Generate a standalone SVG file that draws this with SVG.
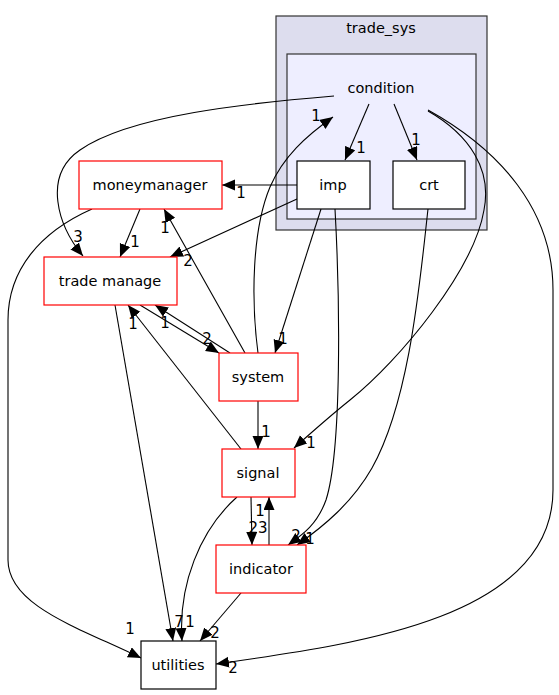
<svg xmlns="http://www.w3.org/2000/svg" width="559" height="695" viewBox="0 0 559 695">
<style>
text{font-family:"DejaVu Sans","Liberation Sans",sans-serif;font-size:14.5px;fill:#000}
.lbl{text-anchor:middle}
.n{font-size:15px}
.e{fill:none;stroke:#000;stroke-width:1.1}
.red{fill:#fff;stroke:#ff0000;stroke-width:1.2}
.blk{fill:#fff;stroke:#000;stroke-width:1.2}
</style>
<defs>
<marker id="ah" markerUnits="userSpaceOnUse" markerWidth="14" markerHeight="12" refX="13" refY="5.5" viewBox="0 0 14 12" orient="auto">
<path d="M0,0 L13,5.5 L0,11 z" fill="#000"/>
</marker>
</defs>
<rect width="559" height="695" fill="#fff"/>
<g id="cluster_trade_sys">
<rect x="276" y="16" width="211" height="214" fill="#ddddee" stroke="#333" stroke-width="1.2"/>
<text x="381" y="33" class="lbl">trade_sys</text>
</g>
<g id="cluster_condition">
<rect x="287" y="54" width="189" height="165" fill="#eeeeff" stroke="#333" stroke-width="1.2"/>
<text x="381" y="93" class="lbl">condition</text>
</g>
<g id="connectors">
<path class="e" marker-end="url(#ah)" d="M369,104 L345,160"/>
<text x="361" y="153" class="lbl n">1</text>
<path class="e" marker-end="url(#ah)" d="M394,104 L417,160"/>
<text x="416" y="145" class="lbl n">1</text>
<path class="e" marker-end="url(#ah)" d="M334,96 C250,103 130,115 80,150 C42,176 58,226 83,256"/>
<text x="78" y="242" class="lbl n">3</text>
<path class="e" marker-end="url(#ah)" d="M428,111 C470,135 492,170 484,210 C474,270 400,360 350,400 C330,416 312,432 294,448"/>
<text x="311" y="448" class="lbl n">1</text>
<path class="e" marker-end="url(#ah)" d="M428,110 C500,150 553,210 553,290 L553,490 C553,620 350,645 216,664"/>
<text x="233" y="673" class="lbl n">2</text>
<path class="e" marker-end="url(#ah)" d="M297,185 L222,185"/>
<text x="241" y="198" class="lbl n">1</text>
<path class="e" marker-end="url(#ah)" d="M297,199 L170,257"/>
<text x="188" y="266" class="lbl n">2</text>
<path class="e" marker-end="url(#ah)" d="M321,209 L275,353"/>
<text x="283" y="344" class="lbl n">1</text>
<path class="e" marker-end="url(#ah)" d="M335,209 C340,300 342,450 326,500 C317,525 302,535 288,545"/>
<text x="296" y="541" class="lbl n">2</text>
<path class="e" marker-end="url(#ah)" d="M258,353 C251,300 252,230 270,187 C283,157 306,136 333,117"/>
<text x="316" y="121" class="lbl n">1</text>
<path class="e" marker-end="url(#ah)" d="M428,209 C420,280 410,400 372,468 C352,503 324,526 297,545"/>
<text x="310" y="544" class="lbl n">1</text>
<path class="e" marker-end="url(#ah)" d="M140,209 L120,257"/>
<text x="135" y="247" class="lbl n">1</text>
<path class="e" marker-end="url(#ah)" d="M92,209 C40,232 8,270 8,320 L8,560 C8,606 80,628 141,658"/>
<text x="130" y="634" class="lbl n">1</text>
<path class="e" marker-end="url(#ah)" d="M140,305 L219,353"/>
<text x="207" y="344" class="lbl n">2</text>
<path class="e" marker-end="url(#ah)" d="M230,353 L155,305"/>
<text x="165" y="328" class="lbl n">1</text>
<path class="e" marker-end="url(#ah)" d="M245,353 L164,209"/>
<text x="165" y="233" class="lbl n">1</text>
<path class="e" marker-end="url(#ah)" d="M258,401 L258,449"/>
<text x="266" y="437" class="lbl n">1</text>
<path class="e" marker-end="url(#ah)" d="M115,305 L173,641"/>
<text x="179" y="627" class="lbl n">7</text>
<path class="e" marker-end="url(#ah)" d="M241,449 L128,305"/>
<text x="133" y="329" class="lbl n">1</text>
<path class="e" marker-end="url(#ah)" d="M237,497 C200,530 178,585 182,641"/>
<text x="190" y="627" class="lbl n">1</text>
<path class="e" marker-end="url(#ah)" d="M251,497 L252,545"/>
<text x="258" y="533" class="lbl n">23</text>
<path class="e" marker-end="url(#ah)" d="M269,545 L269,497"/>
<text x="260" y="516" class="lbl n">1</text>
<path class="e" marker-end="url(#ah)" d="M241,593 L200,641"/>
<text x="215" y="638" class="lbl n">2</text>
</g>
<g id="node_imp">
<rect class="blk" x="297" y="161" width="73" height="48"/>
<text x="333" y="190" class="lbl">imp</text>
</g>
<g id="node_crt">
<rect class="blk" x="393" y="161" width="72" height="48"/>
<text x="429" y="190" class="lbl">crt</text>
</g>
<g id="node_moneymanager">
<rect class="red" x="79" y="161" width="143" height="48"/>
<text x="150" y="190" class="lbl">moneymanager</text>
</g>
<g id="node_trade_manage">
<rect class="red" x="44" y="257" width="133" height="48"/>
<text x="110" y="286" class="lbl">trade manage</text>
</g>
<g id="node_system">
<rect class="red" x="219" y="353" width="79" height="48"/>
<text x="258" y="382" class="lbl">system</text>
</g>
<g id="node_signal">
<rect class="red" x="222" y="449" width="73" height="48"/>
<text x="258" y="478" class="lbl">signal</text>
</g>
<g id="node_indicator">
<rect class="red" x="216" y="545" width="90" height="48"/>
<text x="261" y="574" class="lbl">indicator</text>
</g>
<g id="node_utilities">
<rect class="blk" x="141" y="641" width="75" height="48"/>
<text x="178" y="670" class="lbl">utilities</text>
</g>
</svg>
